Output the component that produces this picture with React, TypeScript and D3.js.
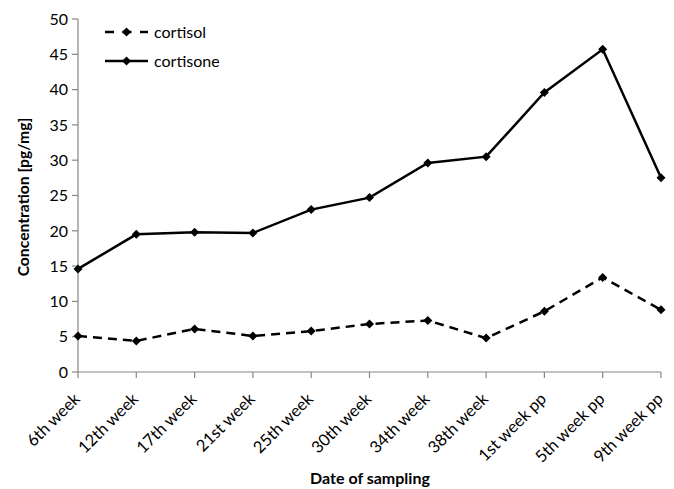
import React from "react";
import * as d3 from "d3";

const categories = ["6th week", "12th week", "17th week", "21st week", "25th week", "30th week", "34th week", "38th week", "1st week pp", "5th week pp", "9th week pp"];
const cortisol = [5.1, 4.4, 6.1, 5.1, 5.8, 6.8, 7.3, 4.8, 8.6, 13.4, 8.8];
const cortisone = [14.6, 19.5, 19.8, 19.7, 23.0, 24.7, 29.6, 30.5, 39.6, 45.7, 27.5];
const yTicks = [0, 5, 10, 15, 20, 25, 30, 35, 40, 45, 50];

const W = 674, H = 489;
const left = 78, right = 661, top = 19, bottom = 372;
const font = "Lato, 'Open Sans', sans-serif";

export default function App() {
  const x = d3.scalePoint<string>().domain(categories).range([left, right]);
  const y = d3.scaleLinear().domain([0, 50]).range([bottom, top]);
  const line = d3.line<number>().x((_, i) => x(categories[i])!).y((d) => y(d));
  const diamond = (cx: number, cy: number, r = 4.5) => `M${cx},${cy - r}L${cx + r},${cy}L${cx},${cy + r}L${cx - r},${cy}Z`;
  const series = [
    { name: "cortisol", values: cortisol, dash: "9,6" },
    { name: "cortisone", values: cortisone, dash: undefined as string | undefined },
  ];
  return (
    <svg width={W} height={H} style={{ position: "absolute", left: 0, top: 0, background: "#fff" }}>
      <rect width={W} height={H} fill="#fff" />
      <line x1={left} x2={left} y1={top} y2={bottom} stroke="#868686" strokeWidth={1.2} />
      <line x1={left} x2={right} y1={bottom} y2={bottom} stroke="#868686" strokeWidth={1.2} />
      {yTicks.map((t) => (
        <g key={t}>
          <line x1={left - 6} x2={left} y1={y(t)} y2={y(t)} stroke="#868686" strokeWidth={1.2} />
          <text x={left - 10} y={y(t)} dy="0.36em" textAnchor="end" fontFamily={font} fontSize={16} fill="#000">{t}</text>
        </g>
      ))}
      {categories.map((c) => (
        <g key={c}>
          <line x1={x(c)!} x2={x(c)!} y1={bottom} y2={bottom + 6} stroke="#868686" strokeWidth={1.2} />
          <text transform={`translate(${x(c)! + 3},${bottom + 28}) rotate(-45)`} textAnchor="end" fontFamily={font} fontSize={16.5} fill="#000">{c}</text>
        </g>
      ))}
      <text x={370} y={484} textAnchor="middle" fontFamily={font} fontWeight="bold" fontSize={16} fill="#000">Date of sampling</text>
      <text transform={`translate(29,${197}) rotate(-90)`} textAnchor="middle" fontFamily={font} fontWeight="bold" fontSize={15.7} fill="#000">Concentration [pg/mg]</text>
      {series.map((s) => (
        <g key={s.name}>
          <path d={line(s.values)!} fill="none" stroke="#000" strokeWidth={2.5} strokeDasharray={s.dash} />
          {s.values.map((v, i) => (
            <path key={i} d={diamond(x(categories[i])!, y(v))} fill="#000" />
          ))}
        </g>
      ))}
      {series.map((s, i) => {
        const ly = 32 + i * 29;
        return (
          <g key={s.name}>
            <line x1={105} x2={148} y1={ly} y2={ly} stroke="#000" strokeWidth={2.5} strokeDasharray={s.dash ? "9,8.5" : undefined} />
            <path d={diamond(126.5, ly)} fill="#000" />
            <text x={154} y={ly} dy="0.35em" fontFamily={font} fontSize={16} fill="#000">{s.name}</text>
          </g>
        );
      })}
    </svg>
  );
}
